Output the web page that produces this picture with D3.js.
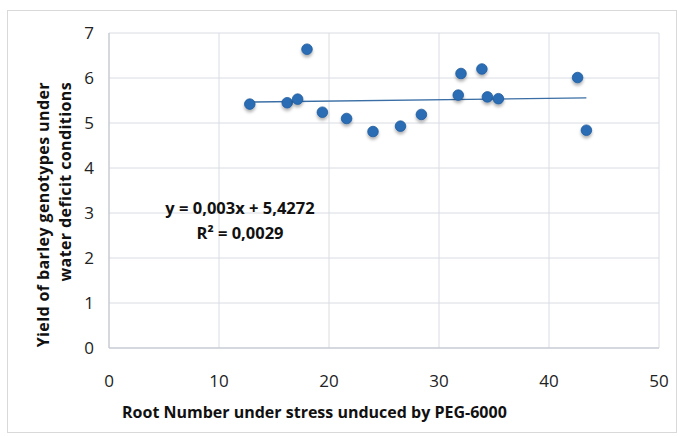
<!DOCTYPE html>
<html>
<head>
<meta charset="utf-8">
<script src="https://cdnjs.cloudflare.com/ajax/libs/d3/7.8.5/d3.min.js"></script>
<style>
  body { margin: 0; background: #fff; }
  svg text { font-family: 'Open Sans', 'Liberation Sans', Arial, sans-serif; }
</style>
</head>
<body>
<div id="chart"></div>
<script>
// root number under PEG-6000 stress vs yield
const rootNumber = [12.8, 16.2, 17.15, 18.0, 19.4, 21.6, 24.0, 26.5, 28.4, 31.75, 32.0, 33.9, 34.4, 35.4, 42.6, 43.4];
const yieldValues = [5.42, 5.45, 5.53, 6.64, 5.24, 5.10, 4.81, 4.93, 5.19, 5.62, 6.10, 6.20, 5.58, 5.54, 6.01, 4.84];
const xTicks = [0, 10, 20, 30, 40, 50];
const yTicks = [0, 1, 2, 3, 4, 5, 6, 7];
const slope = 0.003, intercept = 5.4272;
const eqLabels = ["y = 0,003x + 5,4272", "R² = 0,0029"];
const yTitle = ["Yield of barley genotypes  under", "water deficit conditions"];
const xTitle = "Root Number under stress unduced by PEG-6000";

const W = 678, H = 436;
const plotL = 109, plotR = 659, plotT = 33, plotB = 348;

const svg = d3.select("#chart").append("svg")
  .attr("width", W)
  .attr("height", H);

// outer chart frame
svg.append("rect")
  .attr("x", 7.5).attr("y", 10.5)
  .attr("width", 669).attr("height", 422)
  .style("fill", "#fff")
  .style("stroke", "#d9d9d9");

const x = d3.scaleLinear().domain([0, 50]).range([plotL, plotR]);
const y = d3.scaleLinear().domain([0, 7]).range([plotB, plotT]);

// gridlines
svg.append("g").selectAll("line")
  .data(yTicks).enter().append("line")
  .attr("x1", plotL).attr("x2", plotR)
  .attr("y1", d => y(d)).attr("y2", d => y(d))
  .style("stroke", "#d9dce3").style("stroke-width", 1);
svg.append("g").selectAll("line")
  .data(xTicks).enter().append("line")
  .attr("y1", plotT).attr("y2", plotB)
  .attr("x1", d => x(d)).attr("x2", d => x(d))
  .style("stroke", "#d9dce3").style("stroke-width", 1);

// axis lines
svg.append("line")
  .attr("x1", plotL).attr("x2", plotL).attr("y1", plotT).attr("y2", plotB)
  .style("stroke", "#bfc4cc");
svg.append("line")
  .attr("x1", plotL).attr("x2", plotR).attr("y1", plotB).attr("y2", plotB)
  .style("stroke", "#bfc4cc");

// tick labels
svg.append("g").selectAll("text")
  .data(yTicks).enter().append("text")
  .attr("x", 94).attr("y", d => y(d) + 6)
  .attr("text-anchor", "end")
  .style("font-size", "17px").style("fill", "#222")
  .text(d => d);
svg.append("g").selectAll("text")
  .data(xTicks).enter().append("text")
  .attr("x", d => x(d)).attr("y", 387)
  .attr("text-anchor", "middle")
  .style("font-size", "17px").style("fill", "#222")
  .text(d => d);

// trend line
const xExt = d3.extent(rootNumber);
svg.append("line")
  .attr("x1", x(xExt[0])).attr("y1", y(slope * xExt[0] + intercept))
  .attr("x2", x(xExt[1])).attr("y2", y(slope * xExt[1] + intercept))
  .style("stroke", "#3a6ea5").style("stroke-width", 1.3);

// points with soft shadow
const defs = svg.append("defs");
const f = defs.append("filter").attr("id", "shadow")
  .attr("x", "-50%").attr("y", "-50%").attr("width", "200%").attr("height", "250%");
f.append("feDropShadow")
  .attr("dx", 0).attr("dy", 2.5).attr("stdDeviation", 1.5)
  .attr("flood-color", "#000").attr("flood-opacity", 0.3);

svg.append("g").selectAll("circle")
  .data(rootNumber).enter().append("circle")
  .attr("cx", d => x(d))
  .attr("cy", (d, i) => y(yieldValues[i]))
  .attr("r", 5.3)
  .attr("filter", "url(#shadow)")
  .style("fill", "#2a6db5")
  .style("stroke", "#1f5a9c").style("stroke-width", 0.8);

// equation
svg.append("g").selectAll("text")
  .data(eqLabels).enter().append("text")
  .attr("x", 240).attr("y", (d, i) => 214 + i * 25)
  .attr("text-anchor", "middle")
  .style("font-size", "16.5px").style("font-weight", "bold").style("fill", "#111")
  .text(d => d);

// axis titles
svg.append("g").selectAll("text")
  .data(yTitle).enter().append("text")
  .attr("transform", (d, i) => "translate(" + (49 + i * 22) + ",82) rotate(-90)")
  .attr("text-anchor", "end")
  .style("font-size", "16px").style("font-weight", "bold").style("fill", "#111")
  .style("letter-spacing", "0.4px")
  .text(d => d);

svg.append("text")
  .attr("x", 122).attr("y", 418)
  .style("font-size", "16px").style("font-weight", "bold").style("fill", "#111")
  .text(xTitle);
</script>
</body>
</html>
